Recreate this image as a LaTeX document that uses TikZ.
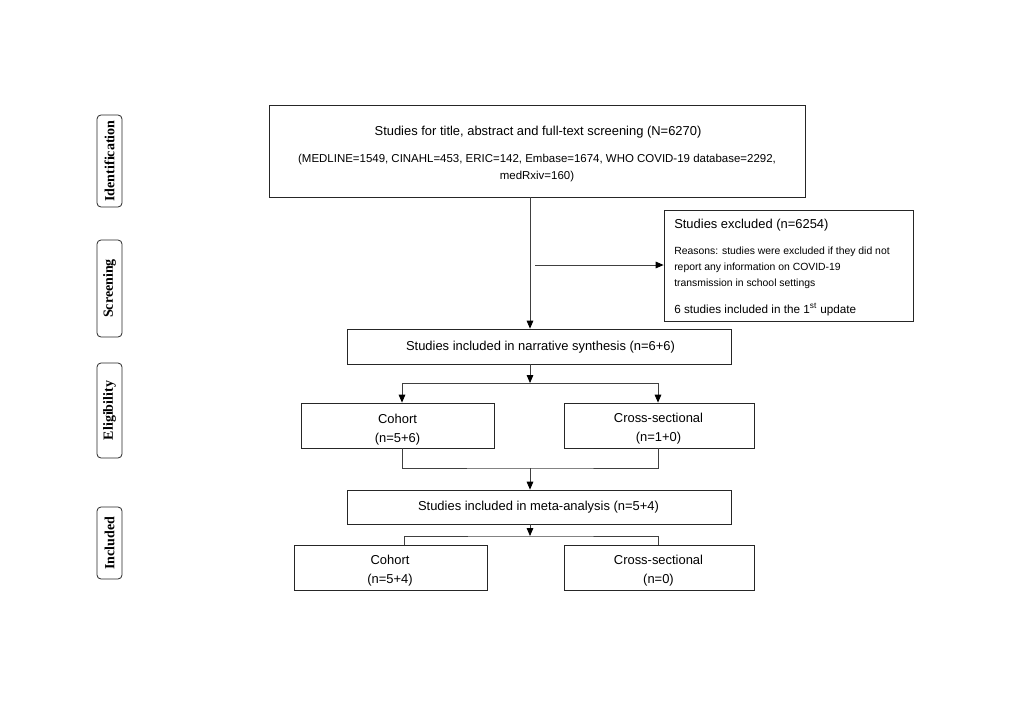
\documentclass[tikz,border=0pt]{standalone}
\usepackage{fontspec}
\setmainfont{Liberation Sans}
\newfontfamily\sideserif{Liberation Serif}
\usetikzlibrary{arrows.meta}
\newcommand{\fbig}{\fontsize{9.7}{14.25}\selectfont}
\newcommand{\fmid}{\fontsize{8.8}{12}\selectfont}
\newcommand{\fsmall}{\fontsize{8.6}{12}\selectfont}
\newcommand{\fsm}{\fontsize{7.8}{12}\selectfont}
\begin{document}
\begin{tikzpicture}[x=0.75pt,y=-0.75pt,
  box/.style={draw=black!85,line width=0.6pt,inner sep=2pt,font=\fbig,align=center},
  txt/.style={inner sep=0pt,font=\fbig,yshift=-1.5pt},
  side/.style={draw=black!85,line width=0.6pt,rounded corners=3pt,rotate=90,minimum height=18.75pt,inner sep=0pt,font=\sideserif\bfseries\fontsize{10.5}{12}\selectfont},
  ln/.style={draw=black!75,line width=0.6pt},
  arr/.style={ln,-{Triangle[length=6pt,width=5pt,color=black]}}]
\useasboundingbox (0,0) rectangle (1024,724);
% side labels
\node[side,minimum width=69pt] (sid) at (109.5,161) {Identification};
\node[side,minimum width=72.75pt] (sscr) at (109.5,288.5) {Screening};
\node[side,minimum width=71.25pt] (selg) at (109.5,410.5) {Eligibility};
\node[side,minimum width=54pt] (sinc) at (109.5,543) {Included};
% top box
\node[box,minimum width=402pt,minimum height=69pt] (top) at (537,151) {};
\node[txt] (t1) at (538,130) {Studies for title, abstract and full-text screening (N=6270)};
\node[txt,font=\fsmall] (t2) at (537,158) {(MEDLINE=1549, CINAHL=453, ERIC=142, Embase=1674, WHO COVID-19 database=2292,};
\node[txt,font=\fsmall] (t3) at (537,175) {medRxiv=160)};
% excluded box
\node[box,minimum width=186.75pt,minimum height=83.25pt] (excl) at (788.5,265.5) {};
\node[txt,anchor=west] (e1) at (674,223) {Studies excluded (n=6254)};
\node[txt,anchor=west,font=\fsm] (e2) at (674,250) {Reasons: studies were excluded if they did not};
\node[txt,anchor=west,font=\fsm] (e3) at (674,266) {report any information on COVID-19};
\node[txt,anchor=west,font=\fsm] (e4) at (674,282) {transmission in school settings};
\node[txt,anchor=west,font=\fmid] (e5) at (674,308) {6 studies included in the 1\textsuperscript{st} update};
% other boxes
\node[box,minimum width=288pt,minimum height=26.25pt] (narr) at (539,346.5) {};
\node[txt] (ntext) at (540.5,345) {Studies included in narrative synthesis (n=6+6)};
\node[box,minimum width=144.75pt,minimum height=33.75pt] (coh1) at (397.5,425.5) {};
\node[txt,align=center] (c1text) at (397.5,427.5) {Cohort\\(n=5+6)};
\node[box,minimum width=142.5pt,minimum height=33.75pt] (crs1) at (659,425.5) {};
\node[txt,align=center] (x1text) at (658.5,426.5) {Cross-sectional\\(n=1+0)};
\node[box,minimum width=288pt,minimum height=25.5pt] (meta) at (539,507) {};
\node[txt] (mtext) at (538.5,505) {Studies included in meta-analysis (n=5+4)};
\node[box,minimum width=144.75pt,minimum height=33.75pt] (coh2) at (390.5,567.5) {};
\node[txt,align=center] (c2text) at (390,568.5) {Cohort\\(n=5+4)};
\node[box,minimum width=142.5pt,minimum height=33.75pt] (crs2) at (659,567.5) {};
\node[txt,align=center] (x2text) at (658.5,568.5) {Cross-sectional\\(n=0)};
% coordinates
\coordinate (mx) at (530,0);
\coordinate (br) at (535,265);
\coordinate (s1) at (530,383);
\coordinate (L1) at (402,383);
\coordinate (R1) at (658,383);
\coordinate (m2) at (530,468);
\coordinate (s3) at (530,536);
\coordinate (L3) at (404,536);
\coordinate (R3) at (658,536);
% connectors
\draw[arr] (top.south -| mx) -- (narr.north -| mx);
\draw[arr] (br) -- (br -| excl.west);
\draw[arr] (narr.south -| mx) -- (s1);
\draw[ln] (L1) -- (R1);
\draw[arr] (L1) -- (L1 |- coh1.north);
\draw[arr] (R1) -- (R1 |- crs1.north);
\draw[ln] (L1 |- coh1.south) |- (m2) -| (R1 |- crs1.south);
\draw[arr] (m2) -- (m2 |- meta.north);
\draw[arr] (meta.south -| mx) -- (s3);
\draw[ln] (L3 |- coh2.north) |- (s3) -| (R3 |- crs2.north);
\end{tikzpicture}
\end{document}
